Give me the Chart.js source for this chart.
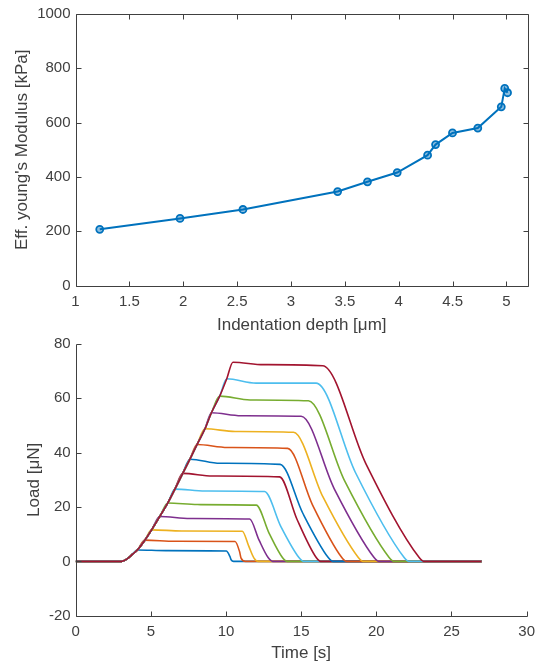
<!DOCTYPE html>
<html>
<head>
<meta charset="utf-8">
<script src="https://cdn.jsdelivr.net/npm/chart.js@4.4.1/dist/chart.umd.min.js"></script>
<style>
  html, body { margin: 0; padding: 0; background: #fff; overflow: hidden; }
  canvas { position: absolute; left: 0; }
  #top { top: 0; }
  #bottom { top: 330px; }
</style>
</head>
<body>
<canvas id="top" width="542" height="340"></canvas>
<canvas id="bottom" width="542" height="332"></canvas>
<script>
// top plot: modulus vs indentation depth
let depth = [1.225, 1.97, 2.554, 3.433, 3.71, 3.986, 4.268, 4.342, 4.499, 4.734, 4.952, 4.984, 5.01];
let modulus = [207, 247, 280, 346, 382, 416, 480, 519, 562, 580, 658, 726, 710];
let depthTicks = [1, 1.5, 2, 2.5, 3, 3.5, 4, 4.5, 5];
let modulusTicks = [0, 200, 400, 600, 800, 1000];

// bottom plot: load curves, all follow the same loading ramp
let rampTime = [3.05, 3.4, 3.7, 4.1, 4.6, 5.05, 5.59, 6.13, 6.6, 7.12, 7.6, 8.07, 8.6, 9.03, 9.58, 10.05, 10.46];
let rampLoad = [0, 0.8, 2.2, 4.2, 7.8, 11.6, 16.5, 21.5, 26.6, 32.4, 37.6, 43.0, 48.8, 54.7, 60.8, 67.2, 73.3];
// hold phase (relaxation) and unloading, one entry per curve
let holdMidTime = [6.0, 6.6, 7.05, 7.6, 8.1, 8.6, 9.1, 9.6, 10.1, 10.6, 11.0, 11.6, 12.0, 12.5];
let holdMidLoad = [3.95, 7.4, 11.2, 15.8, 20.9, 25.9, 31.4, 36.1, 41.9, 47.8, 53.6, 59.4, 65.6, 72.4];
let holdEndTime = [10.02, 10.6, 11.08, 11.57, 12.01, 12.56, 13.56, 13.6, 14.1, 14.49, 15.0, 15.48, 15.99, 16.43];
let holdEndLoad = [3.8, 7.3, 11.1, 15.6, 20.7, 25.7, 31.1, 35.7, 41.6, 47.5, 53.4, 59.1, 65.6, 72.0];
let unloadMidTime = [10.25, 10.9, 11.52, 12.2, 12.87, 13.65, 14.72, 15.1, 15.75, 16.45, 17.2, 17.9, 18.6, 19.3];
let unloadMidLoad = [1.9, 3.6, 5.5, 7.8, 10.3, 12.8, 15.5, 17.8, 20.8, 23.7, 26.7, 29.5, 32.8, 36.0];
let toeTime = [10.35, 11.0, 11.85, 12.8, 13.75, 14.85, 16.0, 16.8, 17.7, 18.8, 19.85, 20.85, 21.85, 22.85];
let toeLoad = [0.5, 1.2, 1.3, 1.4, 1.4, 1.4, 1.4, 1.4, 1.4, 1.4, 1.4, 1.4, 1.4, 1.4];
let zeroTime = [10.5, 11.3, 12.15, 13.1, 14.05, 15.15, 16.3, 17.1, 18.0, 19.1, 20.15, 21.15, 22.15, 23.15];
let startTime = 0;
let endTime = 27;
let timeTicks = [0, 5, 10, 15, 20, 25, 30];
let loadTicks = [-20, 0, 20, 40, 60, 80];

let colorOrder = ['#0072BD', '#D95319', '#EDB120', '#7E2F8E', '#77AC30', '#4DBEEE', '#A2142F'];
let axisColor = '#404040';
let fontFamily = "'Liberation Sans', Arial, Helvetica, sans-serif";

// MATLAB style axes: inward ticks, optional box
const matlabAxes = {
  id: 'matlabAxes',
  afterDraw(chart, args, opts) {
    const ctx = chart.ctx;
    const a = chart.chartArea;
    const sx = chart.scales.x, sy = chart.scales.y;
    const L = Math.round(a.left) + 0.5, R = Math.round(a.right) + 0.5;
    const T = Math.round(a.top) + 0.5, B = Math.round(a.bottom) + 0.5;
    const len = 5;
    ctx.save();
    ctx.strokeStyle = axisColor;
    ctx.lineWidth = 1;
    ctx.beginPath();
    ctx.moveTo(L, T); ctx.lineTo(L, B); ctx.lineTo(R, B);
    if (opts.box) { ctx.lineTo(R, T); ctx.lineTo(L, T); }
    sx.ticks.forEach(t => {
      const px = Math.round(sx.getPixelForValue(t.value)) + 0.5;
      ctx.moveTo(px, B); ctx.lineTo(px, B - len);
      if (opts.box) { ctx.moveTo(px, T); ctx.lineTo(px, T + len); }
    });
    sy.ticks.forEach(t => {
      const py = Math.round(sy.getPixelForValue(t.value)) + 0.5;
      ctx.moveTo(L, py); ctx.lineTo(L + len, py);
      if (opts.box) { ctx.moveTo(R, py); ctx.lineTo(R - len, py); }
    });
    ctx.stroke();
    ctx.restore();
  }
};

function tickFont() { return { family: fontFamily, size: 15 }; }
function titleFont() { return { family: fontFamily, size: 17, lineHeight: 1 }; }

function makeAxis(min, max, tickList, title, titlePad, size, isX) {
  return {
    type: 'linear',
    min: min,
    max: max,
    grid: { display: false, drawTicks: false },
    border: { display: false },
    ticks: {
      font: tickFont(), color: axisColor, padding: isX ? 7 : 5, maxRotation: 0, autoSkip: false,
      callback: v => String(v)
    },
    afterBuildTicks: s => { s.ticks = tickList.map(v => ({ value: v })); },
    afterFit: s => { if (isX) s.height = size; else s.width = size; },
    title: { display: true, text: title, font: titleFont(), color: axisColor, padding: titlePad }
  };
}

// top chart
const points = depth.map((d, i) => ({ x: d, y: modulus[i] }));
new Chart(document.getElementById('top'), {
  type: 'scatter',
  data: {
    datasets: [{
      data: points,
      showLine: true,
      borderColor: '#0072BD',
      borderWidth: 2,
      pointRadius: 3.5,
      pointBorderWidth: 1.8,
      pointBorderColor: '#0072BD',
      pointBackgroundColor: 'rgba(0,114,189,0.45)'
    }]
  },
  options: {
    responsive: false,
    animation: false,
    devicePixelRatio: 1,
    layout: { padding: { top: 13, right: 14, left: 0, bottom: 0 } },
    plugins: { legend: { display: false }, tooltip: { enabled: false }, matlabAxes: { box: true } },
    scales: {
      x: makeAxis(1, 5.2, depthTicks, 'Indentation depth [\u03BCm]', { bottom: 6 }, 54.5, true),
      y: makeAxis(0, 1000, modulusTicks, "Eff. young's Modulus [kPa]", { top: 14 }, 75.5, false)
    }
  },
  plugins: [matlabAxes]
});

// bottom chart
const curves = holdEndTime.map((te, i) => {
  const pts = [{ x: startTime, y: 0 }];
  for (let k = 0; k <= i + 3; k++) pts.push({ x: rampTime[k], y: rampLoad[k] });
  pts.push({ x: holdMidTime[i], y: holdMidLoad[i] });
  pts.push({ x: te, y: holdEndLoad[i] });
  pts.push({ x: unloadMidTime[i], y: unloadMidLoad[i] });
  pts.push({ x: toeTime[i], y: toeLoad[i] });
  pts.push({ x: zeroTime[i], y: 0 });
  pts.push({ x: endTime, y: 0 });
  return {
    data: pts,
    showLine: true,
    borderColor: colorOrder[i % colorOrder.length],
    borderWidth: 1.6,
    pointRadius: 0,
    cubicInterpolationMode: 'monotone',
    order: holdEndTime.length - i
  };
});

new Chart(document.getElementById('bottom'), {
  type: 'scatter',
  data: { datasets: curves },
  options: {
    responsive: false,
    animation: false,
    devicePixelRatio: 1,
    layout: { padding: { top: 13, right: 14, left: 0, bottom: 0 } },
    plugins: { legend: { display: false }, tooltip: { enabled: false }, matlabAxes: { box: false } },
    scales: {
      x: makeAxis(0, 30, timeTicks, 'Time [s]', { bottom: 0 }, 46.3, true),
      y: makeAxis(-20, 80, loadTicks, 'Load [\u03BCN]', { top: 26 }, 75.7, false)
    }
  },
  plugins: [matlabAxes]
});
</script>
</body>
</html>
